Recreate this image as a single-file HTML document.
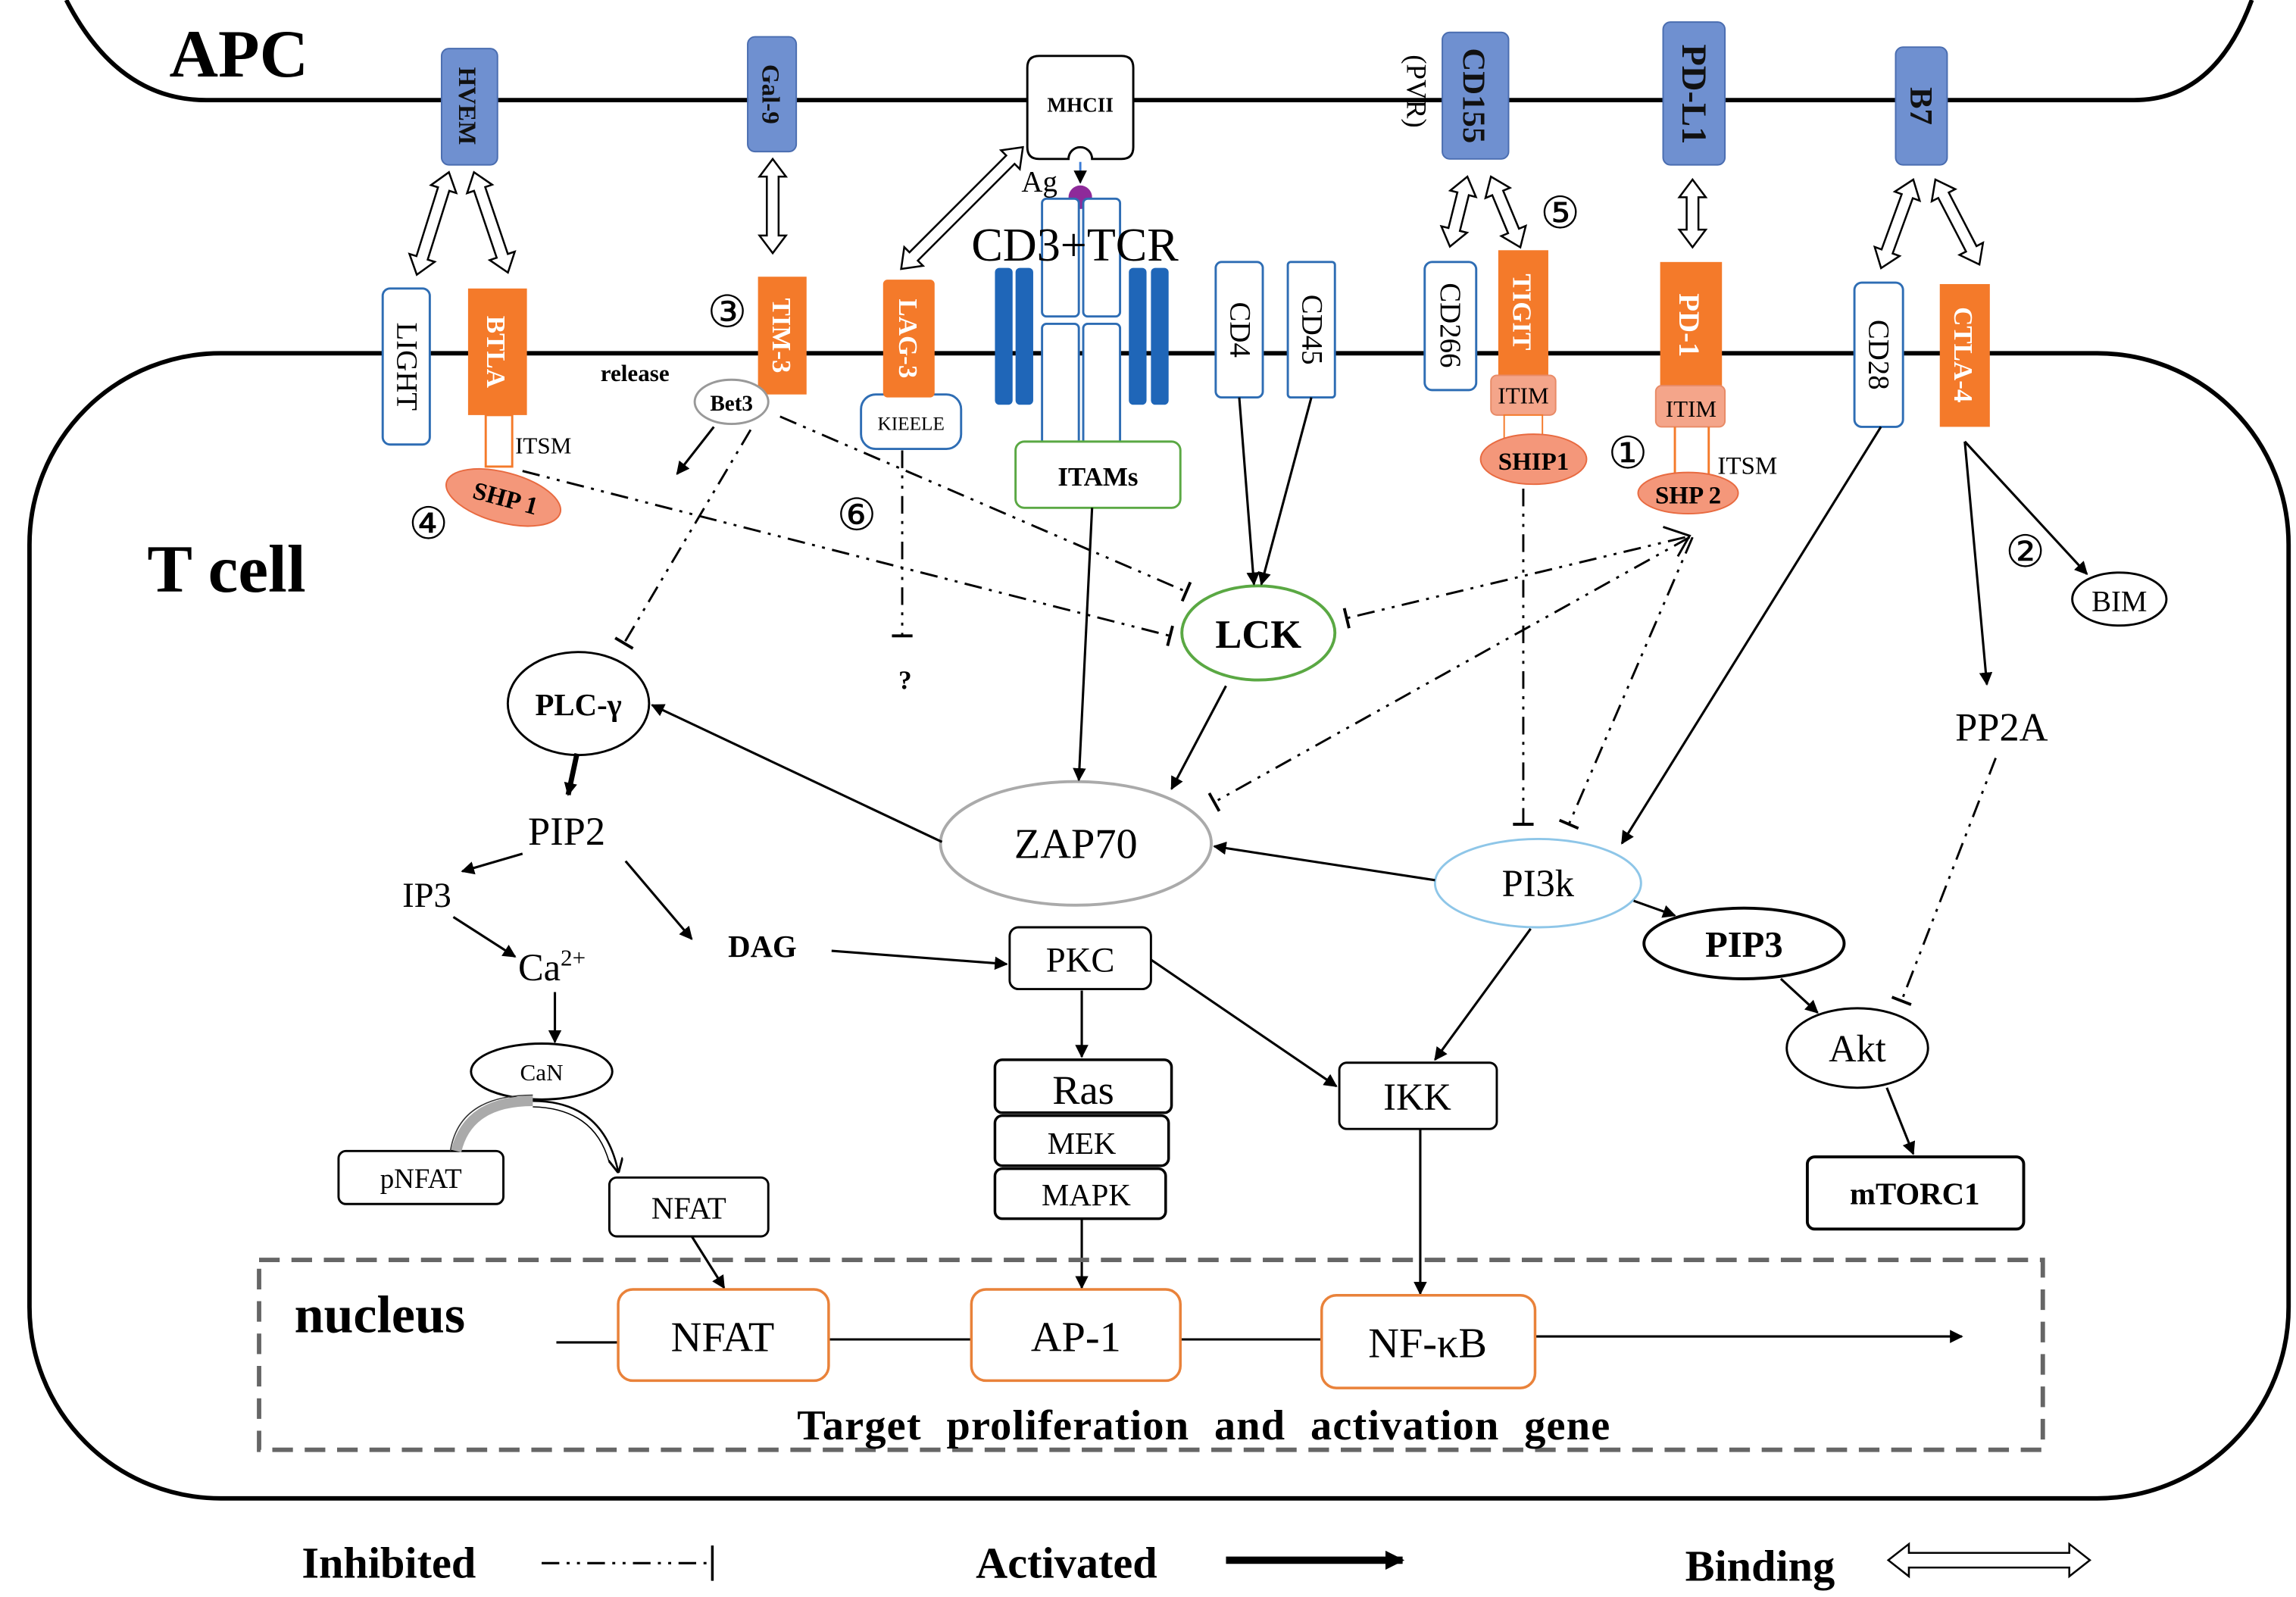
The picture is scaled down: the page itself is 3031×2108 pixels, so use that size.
<!DOCTYPE html>
<html><head><meta charset="utf-8"><style>
html,body{margin:0;padding:0;background:#fff}
svg{display:block}
text{font-family:"Liberation Serif",serif}
.b{font-weight:bold}
</style></head><body>
<svg width="3031" height="2108" viewBox="0 0 1560 1085" xmlns="http://www.w3.org/2000/svg">
<defs>
<marker id="ar" viewBox="0 0 10 10" refX="9" refY="5" markerWidth="9" markerHeight="9" markerUnits="userSpaceOnUse" orient="auto"><path d="M0,0 L10,5 L0,10 Z" fill="#000"/></marker>
<marker id="arb" viewBox="0 0 10 10" refX="9" refY="5" markerWidth="13" markerHeight="13" markerUnits="userSpaceOnUse" orient="auto"><path d="M0,0 L10,5 L0,10 Z" fill="#000"/></marker>
<marker id="bar" viewBox="-2 -8 4 16" refX="0" refY="0" markerWidth="4" markerHeight="16" markerUnits="userSpaceOnUse" orient="auto"><path d="M0,-7 L0,7" stroke="#000" stroke-width="2"/></marker>
<marker id="oa" viewBox="0 0 10 10" refX="9" refY="5" markerWidth="10" markerHeight="10" markerUnits="userSpaceOnUse" orient="auto"><path d="M0,0 L10,5 L0,10" fill="none" stroke="#000" stroke-width="1.5"/></marker>
</defs>

<!-- APC membrane -->
<path d="M45,0 Q80,68 140,68 L1450,68 Q1505,68 1530,0" fill="none" stroke="#000" stroke-width="3"/>
<!-- T cell -->
<rect x="20" y="240" width="1535" height="778" rx="130" ry="130" fill="none" stroke="#000" stroke-width="3"/>

<text x="115" y="52" font-size="46" class="b">APC</text>
<text x="100" y="402" font-size="46" class="b">T cell</text>

<!-- APC proteins -->
<g fill="#6f90d0" stroke="#4a6db0" stroke-width="1">
<rect x="300" y="33" width="38" height="79" rx="5"/>
<rect x="508" y="25" width="33" height="78" rx="5"/>
<rect x="980" y="22" width="45" height="86" rx="5"/>
<rect x="1130" y="15" width="42" height="97" rx="5"/>
<rect x="1288" y="32" width="35" height="80" rx="5"/>
</g>
<g font-weight="bold" fill="#111">
<text transform="translate(312,72) rotate(90)" font-size="17" text-anchor="middle">HVEM</text>
<text transform="translate(518,64) rotate(90)" font-size="17" text-anchor="middle">Gal-9</text>
<text transform="translate(994,65) rotate(90)" font-size="22" text-anchor="middle">CD155</text>
<text transform="translate(1143,64) rotate(90)" font-size="24" text-anchor="middle">PD-L1</text>
<text transform="translate(1298,72) rotate(90)" font-size="22" text-anchor="middle">B7</text>
</g>
<text transform="translate(956,62) rotate(90)" font-size="19" text-anchor="middle">(PVR)</text>

<!-- MHCII -->
<path d="M706,38 L762,38 Q770,38 770,46 L770,100 Q770,108 762,108 L742,108 A8,8 0 0 0 726,108 L706,108 Q698,108 698,100 L698,46 Q698,38 706,38 Z" fill="#fff" stroke="#000" stroke-width="1.5"/>
<text x="734" y="76" font-size="14" class="b" text-anchor="middle">MHCII</text>
<line x1="734" y1="110" x2="734" y2="124" stroke="#3a7bd5" stroke-width="1.5" marker-end="url(#ar)"/>
<circle cx="734" cy="134" r="8" fill="#8e2a9a"/>
<text x="694" y="130" font-size="20">Ag</text>

<!-- binding arrows -->
<g fill="#fff" stroke="#000" stroke-width="1.3">
<path transform="translate(305,117) rotate(107.4)" d="M0,0 L12,-9 L12,-4 L61,-4 L61,-9 L73,0 L61,9 L61,4 L12,4 L12,9 Z"/>
<path transform="translate(322,117) rotate(71.3)" d="M0,0 L12,-9 L12,-4 L60,-4 L60,-9 L72,0 L60,9 L60,4 L12,4 L12,9 Z"/>
<path transform="translate(525,108) rotate(90)" d="M0,0 L12,-9 L12,-4 L52,-4 L52,-9 L64,0 L52,9 L52,4 L12,4 L12,9 Z"/>
<path transform="translate(695,100) rotate(135)" d="M0,0 L12,-9 L12,-4 L105,-4 L105,-9 L117,0 L105,9 L105,4 L12,4 L12,9 Z"/>
<path transform="translate(997,120) rotate(104)" d="M0,0 L12,-9 L12,-4 L37,-4 L37,-9 L49,0 L37,9 L37,4 L12,4 L12,9 Z"/>
<path transform="translate(1013,120) rotate(67.4)" d="M0,0 L12,-9 L12,-4 L40,-4 L40,-9 L52,0 L40,9 L40,4 L12,4 L12,9 Z"/>
<path transform="translate(1150,122) rotate(90)" d="M0,0 L12,-9 L12,-4 L34,-4 L34,-9 L46,0 L34,9 L34,4 L12,4 L12,9 Z"/>
<path transform="translate(1300,122) rotate(110)" d="M0,0 L12,-9 L12,-4 L52,-4 L52,-9 L64,0 L52,9 L52,4 L12,4 L12,9 Z"/>
<path transform="translate(1315,122) rotate(62.6)" d="M0,0 L12,-9 L12,-4 L53,-4 L53,-9 L65,0 L53,9 L53,4 L12,4 L12,9 Z"/>
<path transform="translate(1283,1060)" d="M0,0 L14,-11 L14,-5 L123,-5 L123,-11 L137,0 L123,11 L123,5 L14,5 L14,11 Z"/>
</g>

<!-- T cell receptors -->
<g fill="#fff" stroke="#2e6db4" stroke-width="1.5">
<rect x="260" y="196" width="32" height="106" rx="5"/>
<rect x="826" y="178" width="32" height="92" rx="4"/>
<rect x="875" y="178" width="32" height="92" rx="2"/>
<rect x="968" y="178" width="35" height="87" rx="5"/>
<rect x="1260" y="192" width="33" height="98" rx="5"/>
<rect x="585" y="268" width="68" height="37" rx="10"/>
<rect x="708" y="135" width="25" height="80" rx="3"/>
<rect x="736" y="135" width="25" height="80" rx="3"/>
<rect x="708" y="220" width="25" height="82" rx="3"/>
<rect x="736" y="220" width="25" height="82" rx="3"/>
</g>
<g fill="#1f66b8">
<rect x="676" y="182" width="12" height="93" rx="3"/>
<rect x="690" y="182" width="12" height="93" rx="3"/>
<rect x="767" y="182" width="12" height="93" rx="3"/>
<rect x="782" y="182" width="12" height="93" rx="3"/>
</g>
<text x="660" y="177" font-size="32">CD3+TCR</text>
<rect x="690" y="300" width="112" height="45" rx="6" fill="#fff" stroke="#5aa843" stroke-width="1.5"/>
<text x="746" y="330" font-size="18" class="b" text-anchor="middle">ITAMs</text>

<g font-size="20">
<text transform="translate(270,249) rotate(90)" text-anchor="middle">LIGHT</text>
<text transform="translate(836,224) rotate(90)" text-anchor="middle">CD4</text>
<text transform="translate(885,224) rotate(90)" text-anchor="middle">CD45</text>
<text transform="translate(979,221) rotate(90)" text-anchor="middle">CD266</text>
<text transform="translate(1270,241) rotate(90)" text-anchor="middle">CD28</text>
</g>
<text x="619" y="292" font-size="13" text-anchor="middle">KIEELE</text>

<!-- orange receptors -->
<g fill="#f47a2a">
<rect x="318" y="196" width="40" height="86"/>
<rect x="515" y="188" width="33" height="80"/>
<rect x="600" y="190" width="35" height="80" rx="3"/>
<rect x="1018" y="170" width="34" height="85"/>
<rect x="1128" y="178" width="42" height="87"/>
<rect x="1318" y="193" width="34" height="97"/>
</g>
<g fill="#fff" font-weight="bold" font-size="18">
<text transform="translate(331,239) rotate(90)" text-anchor="middle">BTLA</text>
<text transform="translate(525,228) rotate(90)" text-anchor="middle">TIM-3</text>
<text transform="translate(611,230) rotate(90)" text-anchor="middle">LAG-3</text>
<text transform="translate(1028,212) rotate(90)" text-anchor="middle">TIGIT</text>
<text transform="translate(1141,221) rotate(90)" text-anchor="middle" font-size="20">PD-1</text>
<text transform="translate(1328,241) rotate(90)" text-anchor="middle">CTLA-4</text>
</g>
<rect x="330" y="282" width="18" height="35" fill="#fff" stroke="#f47a2a" stroke-width="1.5"/>
<ellipse cx="342" cy="338" rx="40" ry="17" transform="rotate(15 342 338)" fill="#f4977a" stroke="#e86a40"/>
<text transform="translate(342,344) rotate(15)" font-size="17" class="b" text-anchor="middle">SHP 1</text>
<text x="350" y="308" font-size="16">ITSM</text>

<rect x="1013" y="255" width="44" height="27" rx="4" fill="#f4a58a" stroke="#e88a66"/>
<text x="1035" y="274" font-size="16" text-anchor="middle">ITIM</text>
<rect x="1022" y="282" width="26" height="16" fill="#fff" stroke="#f47a2a"/>
<ellipse cx="1042" cy="312" rx="36" ry="17" fill="#f4977a" stroke="#e86a40"/>
<text x="1042" y="319" font-size="17" class="b" text-anchor="middle">SHIP1</text>

<rect x="1125" y="262" width="47" height="28" rx="4" fill="#f4a58a" stroke="#e88a66"/>
<text x="1149" y="283" font-size="16" text-anchor="middle">ITIM</text>
<line x1="1138" y1="290" x2="1138" y2="325" stroke="#f47a2a" stroke-width="1.5"/>
<line x1="1161" y1="290" x2="1161" y2="325" stroke="#f47a2a" stroke-width="1.5"/>
<ellipse cx="1147" cy="335" rx="34" ry="14" fill="#f4977a" stroke="#e86a40"/>
<text x="1147" y="342" font-size="17" class="b" text-anchor="middle">SHP 2</text>
<text x="1167" y="322" font-size="17">ITSM</text>

<!-- circled numbers -->
<g font-size="30" text-anchor="middle" font-family="DejaVu Sans, sans-serif">
<text x="1106" y="318" font-family="DejaVu Sans, sans-serif">①</text>
<text x="1376" y="385" font-family="DejaVu Sans, sans-serif">②</text>
<text x="494" y="222" font-family="DejaVu Sans, sans-serif">③</text>
<text x="291" y="366" font-family="DejaVu Sans, sans-serif">④</text>
<text x="1060" y="155" font-family="DejaVu Sans, sans-serif">⑤</text>
<text x="582" y="360" font-family="DejaVu Sans, sans-serif">⑥</text>
</g>

<text x="408" y="259" font-size="16" class="b">release</text>
<ellipse cx="497" cy="273" rx="25" ry="15" fill="#fff" stroke="#999" stroke-width="1.5"/>
<text x="497" y="279" font-size="15" class="b" text-anchor="middle">Bet3</text>

<!-- nodes -->
<ellipse cx="855" cy="430" rx="52" ry="32" fill="#fff" stroke="#5aa843" stroke-width="2"/>
<text x="855" y="440" font-size="27" class="b" text-anchor="middle">LCK</text>
<ellipse cx="393" cy="478" rx="48" ry="35" fill="#fff" stroke="#000" stroke-width="1.5"/>
<text x="393" y="486" font-size="21" class="b" text-anchor="middle">PLC-γ</text>
<text x="615" y="468" font-size="18" class="b" text-anchor="middle">?</text>
<text x="385" y="574" font-size="27" text-anchor="middle">PIP2</text>
<text x="290" y="616" font-size="24" text-anchor="middle">IP3</text>
<text x="352" y="666" font-size="26">Ca<tspan font-size="16" dy="-10">2+</tspan></text>
<text x="518" y="650" font-size="21" class="b" text-anchor="middle">DAG</text>
<ellipse cx="368" cy="728" rx="48" ry="19" fill="#fff" stroke="#000" stroke-width="1.5"/>
<text x="368" y="734" font-size="16" text-anchor="middle">CaN</text>
<rect x="230" y="782" width="112" height="36" rx="5" fill="#fff" stroke="#000" stroke-width="1.5"/>
<text x="286" y="807" font-size="19" text-anchor="middle">pNFAT</text>
<rect x="414" y="800" width="108" height="40" rx="5" fill="#fff" stroke="#000" stroke-width="1.5"/>
<text x="468" y="828" font-size="21" text-anchor="middle">NFAT</text>
<path d="M310,782 Q318,748 362,748" fill="none" stroke="#aaa" stroke-width="7"/>
<path d="M306,782 Q312,744 362,744" fill="none" stroke="#333" stroke-width="0.8"/>
<path d="M362,748 Q410,748 420,796" fill="none" stroke="#000" stroke-width="1.3" marker-end="url(#oa)"/>
<path d="M362,752 Q404,753 414,790" fill="none" stroke="#000" stroke-width="0.8"/>

<ellipse cx="731" cy="573" rx="92" ry="42" fill="#fff" stroke="#aaa" stroke-width="2"/>
<text x="731" y="583" font-size="29" text-anchor="middle">ZAP70</text>
<rect x="686" y="630" width="96" height="42" rx="6" fill="#fff" stroke="#000" stroke-width="1.5"/>
<text x="734" y="660" font-size="24" text-anchor="middle">PKC</text>
<rect x="676" y="720" width="120" height="36" rx="5" fill="#fff" stroke="#000" stroke-width="1.8"/>
<text x="736" y="750" font-size="28" text-anchor="middle">Ras</text>
<rect x="676" y="758" width="118" height="34" rx="5" fill="#fff" stroke="#000" stroke-width="1.8"/>
<text x="735" y="784" font-size="21" text-anchor="middle">MEK</text>
<rect x="676" y="794" width="116" height="34" rx="5" fill="#fff" stroke="#000" stroke-width="1.8"/>
<text x="738" y="819" font-size="21" text-anchor="middle">MAPK</text>
<rect x="910" y="722" width="107" height="45" rx="5" fill="#fff" stroke="#000" stroke-width="1.5"/>
<text x="963" y="754" font-size="26" text-anchor="middle">IKK</text>
<ellipse cx="1045" cy="600" rx="70" ry="30" fill="#fff" stroke="#8ec6e8" stroke-width="1.5"/>
<text x="1045" y="609" font-size="26" text-anchor="middle">PI3k</text>
<ellipse cx="1185" cy="641" rx="68" ry="24" fill="#fff" stroke="#000" stroke-width="2"/>
<text x="1185" y="650" font-size="25" class="b" text-anchor="middle">PIP3</text>
<ellipse cx="1262" cy="712" rx="48" ry="27" fill="#fff" stroke="#000" stroke-width="1.5"/>
<text x="1262" y="721" font-size="26" text-anchor="middle">Akt</text>
<rect x="1228" y="786" width="147" height="49" rx="5" fill="#fff" stroke="#000" stroke-width="2"/>
<text x="1301" y="818" font-size="21" class="b" text-anchor="middle">mTORC1</text>
<ellipse cx="1440" cy="407" rx="32" ry="18" fill="#fff" stroke="#000" stroke-width="1.5"/>
<text x="1440" y="415" font-size="20" text-anchor="middle">BIM</text>
<text x="1360" y="503" font-size="27" text-anchor="middle">PP2A</text>

<!-- activation edges -->
<g stroke="#000" stroke-width="1.6" fill="none" marker-end="url(#ar)">
<line x1="842" y1="270" x2="852" y2="397"/>
<line x1="891" y1="270" x2="857" y2="397"/>
<line x1="742" y1="345" x2="733" y2="530"/>
<line x1="833" y1="466" x2="796" y2="536"/>
<line x1="640" y1="572" x2="443" y2="479"/>
<line x1="355" y1="580" x2="314" y2="592"/>
<line x1="425" y1="585" x2="470" y2="638"/>
<line x1="308" y1="623" x2="350" y2="650"/>
<line x1="377" y1="674" x2="377" y2="708"/>
<line x1="565" y1="646" x2="684" y2="655"/>
<line x1="735" y1="673" x2="735" y2="718"/>
<line x1="782" y1="652" x2="908" y2="738"/>
<line x1="975" y1="598" x2="825" y2="575"/>
<line x1="1040" y1="631" x2="975" y2="720"/>
<line x1="1110" y1="612" x2="1138" y2="622"/>
<line x1="1210" y1="665" x2="1235" y2="688"/>
<line x1="1282" y1="739" x2="1300" y2="784"/>
<line x1="1278" y1="290" x2="1102" y2="573"/>
<line x1="1335" y1="300" x2="1350" y2="465"/>
<line x1="1335" y1="300" x2="1418" y2="390"/>
<line x1="735" y1="828" x2="735" y2="875"/>
<line x1="965" y1="767" x2="965" y2="879"/>
<line x1="470" y1="840" x2="492" y2="875"/>
<line x1="485" y1="290" x2="460" y2="322"/>
<line x1="1043" y1="908" x2="1333" y2="908"/>
</g>
<line x1="392" y1="512" x2="386" y2="540" stroke="#000" stroke-width="3.5" marker-end="url(#ar)"/>

<!-- inhibition edges -->
<g stroke="#000" stroke-width="1.5" fill="none" stroke-dasharray="12 5 2 5 2 5" marker-end="url(#bar)">
<line x1="355" y1="320" x2="795" y2="432"/>
<line x1="530" y1="283" x2="806" y2="402"/>
<line x1="510" y1="292" x2="424" y2="437"/>
<line x1="613" y1="306" x2="613" y2="432"/>
<line x1="1145" y1="365" x2="915" y2="420"/>
<line x1="1148" y1="365" x2="825" y2="545"/>
<line x1="1150" y1="365" x2="1066" y2="560"/>
<line x1="1035" y1="332" x2="1035" y2="560"/>
<line x1="1356" y1="515" x2="1292" y2="680"/>
</g>
<g stroke="#000" stroke-width="1.5" fill="none">
<path d="M1130,358 L1148,364 L1140,378"/>
</g>

<!-- nucleus -->
<rect x="176" y="856" width="1212" height="129" fill="none" stroke="#666" stroke-width="3" stroke-dasharray="14 8"/>
<text x="200" y="905" font-size="36" class="b">nucleus</text>
<g stroke="#000" stroke-width="1.6">
<line x1="378" y1="912" x2="420" y2="912"/>
<line x1="563" y1="910" x2="660" y2="910"/>
<line x1="802" y1="910" x2="898" y2="910"/>
</g>
<g fill="#fff" stroke="#e9823a" stroke-width="1.8">
<rect x="420" y="876" width="143" height="62" rx="10"/>
<rect x="660" y="876" width="142" height="62" rx="10"/>
<rect x="898" y="880" width="145" height="63" rx="10"/>
</g>
<text x="491" y="918" font-size="29" text-anchor="middle">NFAT</text>
<text x="731" y="918" font-size="29" text-anchor="middle">AP-1</text>
<text x="970" y="922" font-size="29" text-anchor="middle">NF-κB</text>
<text x="818" y="978" font-size="29" class="b" text-anchor="middle" word-spacing="9" letter-spacing="0.6">Target proliferation and activation gene</text>

<!-- legend -->
<text x="205" y="1072" font-size="30" class="b">Inhibited</text>
<line x1="368" y1="1062" x2="482" y2="1062" stroke="#000" stroke-width="1.6" stroke-dasharray="12 5 2 5 2 5"/>
<line x1="484" y1="1050" x2="484" y2="1074" stroke="#000" stroke-width="1.8"/>
<text x="663" y="1072" font-size="30" class="b">Activated</text>
<line x1="833" y1="1060" x2="953" y2="1060" stroke="#000" stroke-width="5" marker-end="url(#arb)"/>
<text x="1145" y="1074" font-size="30" class="b">Binding</text>
</svg>
</body></html>
